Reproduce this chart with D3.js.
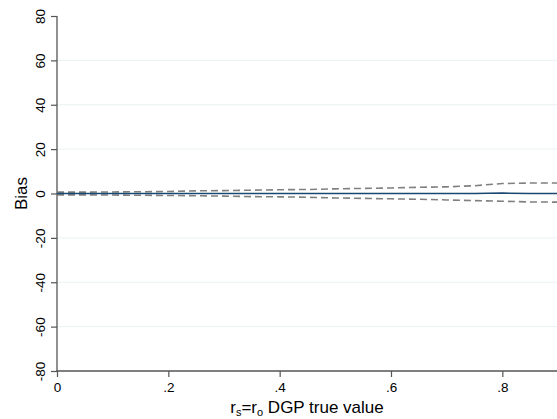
<!DOCTYPE html>
<html><head><meta charset="utf-8">
<script src="https://cdn.jsdelivr.net/npm/d3@7"></script>
<style>
body{margin:0;background:#fff;}
svg{display:block;font-family:"Liberation Sans",Arial,sans-serif;}
</style></head>
<body><svg id="c" width="557" height="419"></svg>
<script>
const xValues = [0,0.05,0.1,0.15,0.2,0.25,0.3,0.35,0.4,0.45,0.5,0.55,0.6,0.65,0.7,0.75,0.8,0.85,0.9];
const meanBias = [0,0,0,0,0,0,0,0,0,0,0,0,0,0,0,0,0.2,0,0];
const upperBand = [0.6,0.6,0.7,0.8,0.9,1.2,1.3,1.5,1.7,1.8,2.1,2.3,2.5,2.8,3.0,3.5,4.5,4.7,4.7];
const lowerBand = [-0.6,-0.6,-0.7,-0.8,-0.9,-1.0,-1.2,-1.4,-1.5,-1.7,-2.0,-2.2,-2.4,-2.6,-2.9,-3.2,-3.5,-3.8,-3.9];
const yTicks = [-80,-60,-40,-20,0,20,40,60,80];
const yTickLabels = ["-80","-60","-40","-20","0","20","40","60","80"];
const xTicks = [0,0.2,0.4,0.6,0.8];
const xTickLabels = ["0",".2",".4",".6",".8"];

const svg = d3.select("#c");
const x = d3.scaleLinear().domain([0,0.9]).range([57,558]);
const y = d3.scaleLinear().domain([-80,80]).range([371,16]);

// grid
svg.append("g").selectAll("line").data(yTicks.filter(d=>d>-80 && d<80)).join("line")
  .attr("x1",57).attr("x2",557).attr("y1",d=>y(d)).attr("y2",d=>y(d))
  .attr("stroke","#eaf2f3").attr("stroke-width",1);

const axisColor = "#555";
// y axis
const ya = svg.append("g").attr("transform","translate(57,0)")
  .call(d3.axisLeft(y).tickValues(yTicks).tickSize(6).tickFormat((d,i)=>yTickLabels[i]));
ya.select(".domain").attr("stroke",axisColor).attr("stroke-width",1.3).attr("d","M0,"+y(80)+"V"+y(-80));
ya.selectAll(".tick line").attr("stroke",axisColor).attr("stroke-width",1.2);
ya.selectAll(".tick text").attr("fill","#000").style("font-size","13.5px")
  .attr("x",0).attr("dy",0)
  .attr("transform","translate(-17,0) rotate(-90)")
  .attr("text-anchor","middle").attr("dominant-baseline","central");

// x axis
const xa = svg.append("g").attr("transform","translate(0,371)")
  .call(d3.axisBottom(x).tickValues(xTicks).tickSize(6).tickFormat((d,i)=>xTickLabels[i]));
xa.select(".domain").attr("stroke",axisColor).attr("stroke-width",1.3).attr("d","M56.3,0H557");
xa.selectAll(".tick line").attr("stroke",axisColor).attr("stroke-width",1.2);
xa.selectAll(".tick text").attr("fill","#000").style("font-size","13.5px").attr("y",11).attr("dy","0.71em");

// lines
const line = arr => d3.line().x((d,i)=>x(xValues[i])).y(d=>y(d))(arr);
svg.append("path").attr("d",line(upperBand)).attr("fill","none")
  .attr("stroke","#808080").attr("stroke-width",1.6).attr("stroke-dasharray","7,4");
svg.append("path").attr("d",line(lowerBand)).attr("fill","none")
  .attr("stroke","#808080").attr("stroke-width",1.6).attr("stroke-dasharray","7,4");
svg.append("path").attr("d",line(meanBias)).attr("fill","none")
  .attr("stroke","#1a476f").attr("stroke-width",1.5);

// titles
svg.append("text").attr("transform","translate(27,193.5) rotate(-90)")
  .attr("text-anchor","middle").style("font-size","17px").attr("fill","#000").text("Bias");
const xt = svg.append("text").attr("x",307).attr("y",413).attr("text-anchor","middle")
  .style("font-size","17px").attr("fill","#000");
xt.append("tspan").text("r");
xt.append("tspan").attr("dy",3).style("font-size","11px").text("s");
xt.append("tspan").attr("dy",-3).text("=r");
xt.append("tspan").attr("dy",3).style("font-size","11px").text("o");
xt.append("tspan").attr("dy",-3).text(" DGP true value");
</script></body></html>
